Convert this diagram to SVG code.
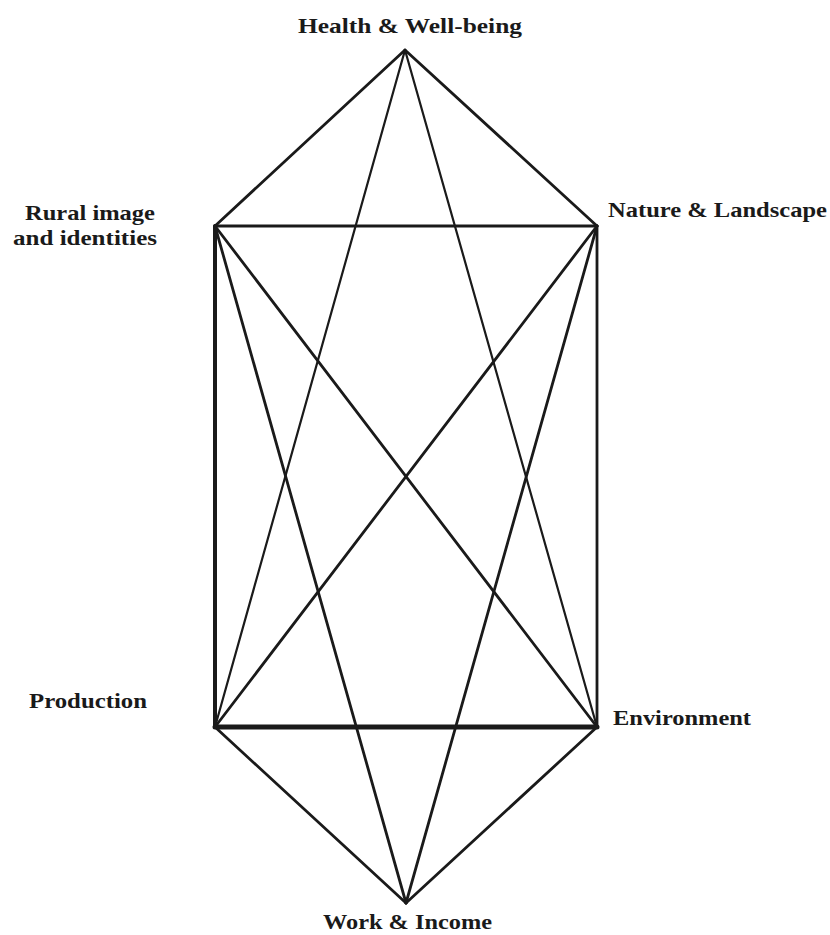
<svg xmlns="http://www.w3.org/2000/svg" width="830" height="935" viewBox="0 0 830 935">
<style>
.lbl{font-family:"Liberation Serif","Times New Roman",serif;font-weight:bold;font-size:22px;fill:#1a1a1a}
.e{stroke:#1a1a1a;stroke-width:2.8;stroke-linecap:round;fill:none}
.thin{stroke-width:2.2}
.thick{stroke-width:4}
.thicker{stroke-width:5}
</style>
<rect width="830" height="935" fill="#fff"/>
<g id="connectors">
<line class="e" x1="405" y1="50" x2="215" y2="226"/>
<line class="e" x1="405" y1="50" x2="597" y2="226"/>
<line class="e thin" x1="405" y1="50" x2="215" y2="727"/>
<line class="e thin" x1="405" y1="50" x2="597" y2="727"/>
<line class="e" x1="215" y1="226" x2="597" y2="226"/>
<line class="e thick" x1="215" y1="226" x2="215" y2="727"/>
<line class="e" x1="215" y1="226" x2="597" y2="727"/>
<line class="e" x1="215" y1="226" x2="406" y2="903"/>
<line class="e" x1="597" y1="226" x2="215" y2="727"/>
<line class="e" x1="597" y1="226" x2="597" y2="727"/>
<line class="e" x1="597" y1="226" x2="406" y2="903"/>
<line class="e thicker" x1="215" y1="727" x2="597" y2="727"/>
<line class="e" x1="215" y1="727" x2="406" y2="903"/>
<line class="e" x1="597" y1="727" x2="406" y2="903"/>
</g>
<g id="health"><text class="lbl" x="298" y="33" textLength="224" lengthAdjust="spacingAndGlyphs">Health &amp; Well-being</text></g>
<g id="rural"><text class="lbl" x="25" y="220" textLength="130" lengthAdjust="spacingAndGlyphs">Rural image</text><text class="lbl" x="13" y="245" textLength="144" lengthAdjust="spacingAndGlyphs">and identities</text></g>
<g id="nature"><text class="lbl" x="608" y="217" textLength="219" lengthAdjust="spacingAndGlyphs">Nature &amp; Landscape</text></g>
<g id="production"><text class="lbl" x="29" y="708" textLength="118" lengthAdjust="spacingAndGlyphs">Production</text></g>
<g id="environment"><text class="lbl" x="613" y="725" textLength="138" lengthAdjust="spacingAndGlyphs">Environment</text></g>
<g id="work"><text class="lbl" x="323" y="929" textLength="169" lengthAdjust="spacingAndGlyphs">Work &amp; Income</text></g>
</svg>
